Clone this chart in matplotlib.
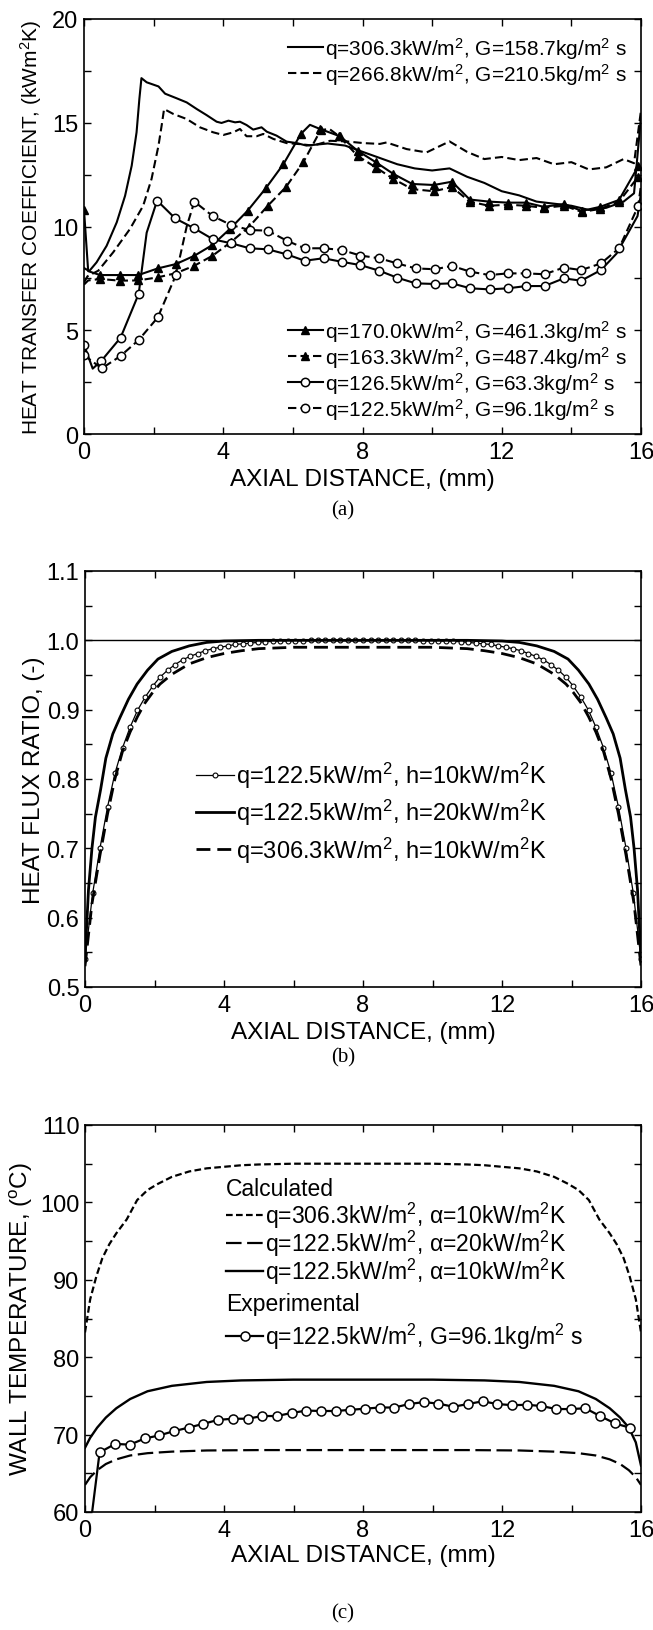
import numpy as np
import matplotlib
matplotlib.use('Agg')
import matplotlib.pyplot as plt
from matplotlib.ticker import MultipleLocator, FormatStrFormatter

plt.rcParams['font.family'] = ['Liberation Sans', 'DejaVu Sans']
plt.rcParams['mathtext.fontset'] = 'custom'
plt.rcParams['mathtext.rm'] = 'Liberation Sans'
plt.rcParams['mathtext.it'] = 'Liberation Sans:italic'
plt.rcParams['mathtext.default'] = 'regular'

# ---------------- Panel (a): heat transfer coefficient ----------------
xa_q306 = [0, 0.15, 0.36, 0.65, 0.94, 1.18, 1.37, 1.51, 1.59, 1.65, 1.8, 2.14, 2.33, 2.66, 2.95, 3.24,
           3.52, 3.81, 3.95, 4.15, 4.34, 4.48, 4.67, 4.86, 5.1, 5.25, 5.53, 5.82, 6.11, 6.39, 7.0,
           7.5, 8.0, 8.5, 9.0, 9.5, 10.0, 10.5, 11.0, 11.5, 12.0, 12.5, 13.0, 13.5, 14.0, 14.5,
           15.0, 15.5, 15.8, 16.0]
ya_q306 = [8.0, 7.85, 8.27, 9.07, 10.2, 11.48, 12.93, 14.54, 16.14, 17.15, 16.95, 16.75, 16.4, 16.18,
           15.98, 15.66, 15.37, 15.05, 14.99, 15.1, 15.02, 15.05, 14.89, 14.67, 14.78, 14.57, 14.38,
           14.09, 14.02, 13.9, 14.0, 13.9, 13.6, 13.3, 13.0, 12.8, 12.7, 12.8, 12.4, 12.1, 11.7,
           11.5, 11.2, 11.1, 11.0, 10.8, 10.9, 11.2, 11.6, 15.3]

xa_q267 = [0, 0.1, 0.41, 0.84, 1.32, 1.7, 1.94, 2.14, 2.23, 2.3, 2.57, 2.95, 3.33, 3.71, 4.0, 4.29,
           4.48, 4.67, 4.96, 5.15, 5.44, 5.82, 6.2, 6.58, 7.07, 7.55, 8.02, 8.5, 8.69, 9.27, 9.84,
           10.5, 11.0, 11.5, 12.0, 12.5, 13.0, 13.5, 14.0, 14.5, 15.0, 15.5, 15.8, 16.0]
ya_q267 = [7.3, 7.6, 7.87, 8.76, 9.88, 11.0, 12.29, 13.9, 14.86, 15.66, 15.42, 15.18, 14.78, 14.54,
           14.41, 14.54, 14.7, 14.35, 14.35, 14.46, 14.22, 14.02, 13.97, 13.9, 14.13, 14.1, 14.02,
           13.98, 14.05, 13.73, 13.57, 14.1, 13.6, 13.25, 13.35, 13.2, 13.3, 13.0, 13.1, 12.75,
           12.85, 13.25, 13.05, 15.6]

xa_q170 = [0, 0.12, 0.46, 1.03, 1.56, 2.12, 2.64, 3.17, 3.69, 4.19, 4.70, 5.22, 5.73, 6.23, 6.49,
           6.78, 7.35, 7.86, 8.39, 8.89, 9.43, 10.05, 10.57, 11.08, 11.63, 12.17, 12.70, 13.20,
           13.80, 14.30, 14.83, 15.37, 15.92]
ya_q170 = [10.8, 7.85, 7.66, 7.66, 7.66, 7.98, 8.19, 8.59, 9.11, 9.88, 10.76, 11.84, 13.01, 14.46,
           14.9, 14.7, 14.35, 13.65, 13.09, 12.53, 12.05, 12.0, 12.16, 11.3, 11.2, 11.15, 11.15,
           10.95, 11.08, 10.75, 10.95, 11.28, 12.9]
mk_q170 = [0] + list(range(2, 14)) + list(range(15, 33))

xa_q163 = [0, 0.12, 0.46, 1.03, 1.56, 2.12, 2.64, 3.17, 3.69, 4.22, 4.75, 5.28, 5.80, 6.30, 6.80,
           7.05, 7.33, 7.86, 8.39, 8.89, 9.43, 10.05, 10.57, 11.08, 11.63, 12.17, 12.70, 13.20,
           13.80, 14.30, 14.83, 15.37, 15.92]
ya_q163 = [7.2, 7.4, 7.47, 7.39, 7.4, 7.55, 7.75, 8.11, 8.59, 9.25, 10.0, 11.0, 11.9, 13.1, 14.65,
           14.7, 14.35, 13.4, 12.84, 12.29, 11.8, 11.7, 11.9, 11.2, 11.0, 11.05, 11.0, 10.9, 11.0,
           10.7, 10.85, 11.2, 12.4]
mk_q163 = list(range(2, 15)) + list(range(16, 33))

xa_q126 = [0, 0.25, 0.5, 1.05, 1.57, 1.8, 2.1, 2.62, 3.17, 3.71, 4.23, 4.76, 5.28, 5.82, 6.34, 6.88,
           7.40, 7.94, 8.48, 9.00, 9.53, 10.08, 10.57, 11.10, 11.65, 12.17, 12.70, 13.23, 13.78,
           14.28, 14.85, 15.3, 15.9, 16.0]
ya_q126 = [4.3, 3.15, 3.53, 4.64, 6.75, 9.7, 11.25, 10.39, 9.91, 9.38, 9.19, 8.95, 8.9, 8.66, 8.35,
           8.47, 8.3, 8.14, 7.87, 7.53, 7.26, 7.23, 7.26, 7.02, 6.97, 7.02, 7.13, 7.13, 7.5, 7.39,
           7.9, 8.7, 10.5, 11.6]
mk_q126 = [0, 2, 3, 4] + list(range(6, 31))

xa_q122 = [0, 0.51, 1.05, 1.57, 2.12, 2.64, 2.95, 3.17, 3.70, 4.23, 4.76, 5.28, 5.82, 6.34, 6.88,
           7.40, 7.94, 8.48, 9.00, 9.53, 10.08, 10.57, 11.10, 11.65, 12.17, 12.70, 13.23, 13.78,
           14.28, 14.85, 15.37, 15.92, 16.0]
ya_q122 = [3.8, 3.16, 3.76, 4.53, 5.62, 7.66, 10.0, 11.2, 10.5, 10.07, 9.83, 9.8, 9.32, 8.95, 8.95,
           8.87, 8.6, 8.47, 8.22, 7.98, 7.94, 8.1, 7.82, 7.66, 7.74, 7.74, 7.7, 8.02, 7.9, 8.22,
           8.95, 10.99, 12.0]
mk_q122 = [0, 1, 2, 3, 4, 5] + list(range(7, 32))

labels_a = ['q=306.3kW/m$^2$, G=158.7kg/m$^2$ s',
            'q=266.8kW/m$^2$, G=210.5kg/m$^2$ s',
            'q=170.0kW/m$^2$, G=461.3kg/m$^2$ s',
            'q=163.3kW/m$^2$, G=487.4kg/m$^2$ s',
            'q=126.5kW/m$^2$, G=63.3kg/m$^2$ s',
            'q=122.5kW/m$^2$, G=96.1kg/m$^2$ s']

# ---------------- Panel (b): heat flux ratio ----------------
xb_h10 = [0.00, 0.22, 0.43, 0.65, 0.86, 1.08, 1.30, 1.51, 1.73, 1.95, 2.16, 2.38, 2.59, 2.81, 3.03,
          3.24, 3.46, 3.68, 3.89, 4.11, 4.32, 4.54, 4.76, 4.97, 5.19, 5.41, 5.62, 5.84, 6.05, 6.27,
          6.49, 6.70, 6.92, 7.14, 7.35, 7.57, 7.78, 8.00, 8.22, 8.43, 8.65, 8.86, 9.08, 9.30, 9.51,
          9.73, 9.95, 10.16, 10.38, 10.59, 10.81, 11.03, 11.24, 11.46, 11.68, 11.89, 12.11, 12.32,
          12.54, 12.76, 12.97, 13.19, 13.41, 13.62, 13.84, 14.05, 14.27, 14.49, 14.70, 14.92,
          15.14, 15.35, 15.57, 15.78, 16.00]
yb_h10 = [0.540, 0.635, 0.700, 0.760, 0.808, 0.845, 0.875, 0.899, 0.918, 0.934, 0.947, 0.957, 0.965,
          0.972, 0.977, 0.981, 0.985, 0.988, 0.990, 0.992, 0.994, 0.995, 0.996, 0.997, 0.998,
          0.9985, 0.999, 0.9993, 0.9995, 0.9997, 0.9998, 0.9999, 1.000, 1.000, 1.000, 1.000,
          1.000, 1.000, 1.000, 1.000, 1.000, 1.000, 1.000, 0.9999, 0.9998, 0.9997, 0.9995,
          0.9993, 0.999, 0.9985, 0.998, 0.997, 0.996, 0.995, 0.994, 0.992, 0.990, 0.988, 0.985,
          0.981, 0.977, 0.972, 0.965, 0.957, 0.947, 0.934, 0.918, 0.899, 0.875, 0.845, 0.808,
          0.760, 0.700, 0.635, 0.540]

xb_h20 = [0, 0.1, 0.2, 0.3, 0.45, 0.6, 0.8, 1.0, 1.25, 1.5, 1.8, 2.1, 2.5, 3.0, 3.5, 4.0, 5.0, 8.0,
          11.0, 12.0, 12.5, 13.0, 13.5, 13.9, 14.2, 14.5, 14.75, 15.0, 15.2, 15.4, 15.55, 15.7,
          15.8, 15.9, 16.0]
yb_h20 = [0.54, 0.64, 0.70, 0.745, 0.785, 0.83, 0.865, 0.888, 0.915, 0.937, 0.957, 0.973, 0.984,
          0.992, 0.997, 0.999, 1.0, 1.0, 1.0, 0.999, 0.997, 0.992, 0.984, 0.973, 0.957, 0.937,
          0.915, 0.888, 0.865, 0.83, 0.785, 0.745, 0.70, 0.64, 0.54]

xb_q306 = [0, 0.2, 0.43, 0.65, 0.86, 1.08, 1.3, 1.51, 1.73, 1.95, 2.16, 2.5, 3.0, 3.5, 4.0, 4.5,
           5.0, 6.0, 8.0, 10.0, 11.0, 11.5, 12.0, 12.5, 13.0, 13.5, 13.84, 14.05, 14.27, 14.49,
           14.7, 14.92, 15.14, 15.35, 15.57, 15.8, 16.0]
yb_q306 = [0.53, 0.62, 0.69, 0.75, 0.80, 0.84, 0.868, 0.89, 0.91, 0.925, 0.937, 0.951, 0.966,
           0.975, 0.981, 0.985, 0.988, 0.99, 0.99, 0.99, 0.988, 0.985, 0.981, 0.975, 0.966,
           0.951, 0.937, 0.925, 0.91, 0.89, 0.868, 0.84, 0.80, 0.75, 0.69, 0.62, 0.53]

xb_ref = [0, 16]
yb_ref = [1.0, 1.0]

labels_b = ['q=122.5kW/m$^2$, h=10kW/m$^2$K',
            'q=122.5kW/m$^2$, h=20kW/m$^2$K',
            'q=306.3kW/m$^2$, h=10kW/m$^2$K']

# ---------------- Panel (c): wall temperature ----------------
xc_q306 = [0, 0.15, 0.33, 0.5, 0.7, 0.9, 1.2, 1.5, 1.8, 2.1, 2.5, 3.0, 3.5, 4.0, 4.5, 5.0, 6.0,
           8.0, 10.0, 11.0, 11.5, 12.0, 12.5, 13.0, 13.5, 13.9, 14.2, 14.5, 14.8, 15.1, 15.3,
           15.5, 15.67, 15.85, 16.0]
yc_q306 = [83.2, 87.5, 90.5, 92.8, 94.6, 96.0, 97.8, 100.3, 101.6, 102.4, 103.3, 104.0, 104.4,
           104.6, 104.8, 104.9, 105.0, 105.0, 105.0, 104.9, 104.8, 104.6, 104.4, 104.0, 103.3,
           102.4, 101.6, 100.3, 97.8, 96.0, 94.6, 92.8, 90.5, 87.5, 83.2]

xc_a20 = [0, 0.15, 0.35, 0.6, 0.9, 1.3, 1.8, 2.5, 3.5, 5.0, 8.0, 11.0, 12.5, 13.5, 14.2, 14.7,
          15.1, 15.4, 15.65, 15.85, 16.0]
yc_a20 = [63.5, 64.5, 65.4, 66.2, 66.8, 67.3, 67.6, 67.8, 67.95, 68.0, 68.0, 68.0, 67.95, 67.8,
          67.6, 67.3, 66.8, 66.2, 65.4, 64.5, 63.5]

xc_a10 = [0, 0.15, 0.35, 0.6, 0.9, 1.3, 1.8, 2.5, 3.5, 4.5, 6.0, 8.0, 10.0, 11.5, 12.5, 13.5,
          14.2, 14.7, 15.1, 15.4, 15.65, 15.85, 16.0]
yc_a10 = [68.3, 69.6, 70.9, 72.2, 73.4, 74.6, 75.6, 76.3, 76.8, 77.0, 77.1, 77.1, 77.1, 77.0,
          76.8, 76.3, 75.6, 74.6, 73.4, 72.2, 70.9, 69.0, 66.0]

xc_exp = [0.15, 0.42, 0.87, 1.29, 1.72, 2.14, 2.56, 2.98, 3.41, 3.83, 4.25, 4.68, 5.10, 5.52,
          5.95, 6.37, 6.79, 7.21, 7.64, 8.06, 8.48, 8.90, 9.33, 9.75, 10.17, 10.60, 11.02, 11.44,
          11.87, 12.29, 12.71, 13.13, 13.56, 13.98, 14.40, 14.82, 15.25, 15.67]
yc_exp = [58.0, 67.7, 68.8, 68.7, 69.5, 69.9, 70.45, 70.9, 71.4, 71.9, 72.05, 72.05, 72.4, 72.4,
          72.8, 73.1, 73.05, 73.05, 73.2, 73.35, 73.5, 73.5, 73.95, 74.2, 74.0, 73.6, 73.95, 74.3,
          73.95, 73.8, 73.85, 73.7, 73.3, 73.3, 73.4, 72.4, 71.45, 70.9]

labels_c = ['q=306.3kW/m$^2$, α=10kW/m$^2$K',
            'q=122.5kW/m$^2$, α=20kW/m$^2$K',
            'q=122.5kW/m$^2$, α=10kW/m$^2$K',
            'q=122.5kW/m$^2$, G=96.1kg/m$^2$ s']

# ---------------- Figure ----------------
FT = 17      # tick labels
FL = 17.5    # axis labels
W, H = 653, 1631
fig = plt.figure(figsize=(W / 100, H / 100), dpi=100)


def box(l, t, r, b):
    return [l / W, 1 - b / H, (r - l) / W, (b - t) / H]


ax_a = fig.add_axes(box(84, 20, 641, 435))
ax_b = fig.add_axes(box(85, 572, 641, 988))
ax_c = fig.add_axes(box(85, 1126, 641, 1513))


def style(ax, ylim, ymaj, ymin, fmt=None):
    ax.set_xlim(0, 16)
    ax.set_ylim(*ylim)
    ax.xaxis.set_major_locator(MultipleLocator(4))
    ax.xaxis.set_minor_locator(MultipleLocator(2))
    ax.yaxis.set_major_locator(MultipleLocator(ymaj))
    ax.yaxis.set_minor_locator(MultipleLocator(ymin))
    if fmt:
        ax.yaxis.set_major_formatter(FormatStrFormatter(fmt))
    ax.tick_params(which='both', direction='in', top=True, right=True, length=5, width=1,
                   labelsize=FT, pad=4)
    ax.tick_params(axis='x', pad=5)
    for s in ax.spines.values():
        s.set_linewidth(1.2)
    ax.set_xlabel('AXIAL DISTANCE, (mm)', fontsize=FL, labelpad=1)


k = dict(color='black')
# Panel a
l1, = ax_a.plot(xa_q306, ya_q306, '-', lw=1.5, label=labels_a[0], **k)
l2, = ax_a.plot(xa_q267, ya_q267, '--', lw=1.5, dashes=(4, 2), label=labels_a[1], **k)
l3, = ax_a.plot(xa_q170, ya_q170, '-', lw=1.5, marker='^', ms=6, markevery=mk_q170,
                mfc='black', label=labels_a[2], **k)
l4, = ax_a.plot(xa_q163, ya_q163, '--', lw=1.5, dashes=(4, 2), marker='^', ms=6,
                markevery=mk_q163, mfc='black', label=labels_a[3], **k)
l5, = ax_a.plot(xa_q126, ya_q126, '-', lw=1.5, marker='o', ms=6, markevery=mk_q126,
                mfc='white', mew=1.1, label=labels_a[4], **k)
l6, = ax_a.plot(xa_q122, ya_q122, '--', lw=1.5, dashes=(4, 2), marker='o', ms=6,
                markevery=mk_q122, mfc='white', mew=1.1, label=labels_a[5], **k)
style(ax_a, (0, 20), 5, 2.5)
ax_a.set_ylabel('HEAT TRANSFER COEFFICIENT, (kWm$^2$K)', fontsize=15)
LA = dict(frameon=False, fontsize=15, handlelength=1.7, handletextpad=0.1, numpoints=1,
          labelspacing=0.0, borderaxespad=0, borderpad=0)
leg_a1 = ax_a.legend(handles=[l1, l2], loc='upper right', bbox_to_anchor=(0.975, 0.962), **LA)
ax_a.add_artist(leg_a1)
ax_a.legend(handles=[l3, l4, l5, l6], loc='lower right', bbox_to_anchor=(0.975, 0.03), **LA)

# Panel b
ax_b.plot(xb_ref, yb_ref, '-', lw=1.0, **k)
m1, = ax_b.plot(xb_h10, yb_h10, '-', lw=0.9, marker='o', ms=3.5, mfc='white', mew=0.8,
                label=labels_b[0], **k)
m2, = ax_b.plot(xb_h20, yb_h20, '-', lw=2.0, label=labels_b[1], **k)
m3, = ax_b.plot(xb_q306, yb_q306, '--', lw=2.0, dashes=(5, 2.5), label=labels_b[2], **k)
style(ax_b, (0.5, 1.1), 0.1, 0.05, '%.1f')
ax_b.set_ylabel('HEAT FLUX RATIO, (-)', fontsize=FL)
ax_b.legend(handles=[m1, m2, m3], loc='center', bbox_to_anchor=(0.515, 0.42), frameon=False,
            fontsize=17, handlelength=1.6, handletextpad=0.1, numpoints=1, labelspacing=0.3,
            borderaxespad=0, borderpad=0)

# Panel c
n1, = ax_c.plot(xc_q306, yc_q306, '--', lw=1.6, dashes=(3, 1.5), label=labels_c[0], **k)
n2, = ax_c.plot(xc_a20, yc_a20, '--', lw=1.6, dashes=(7, 2.5), label=labels_c[1], **k)
n3, = ax_c.plot(xc_a10, yc_a10, '-', lw=1.7, label=labels_c[2], **k)
n4, = ax_c.plot(xc_exp, yc_exp, '-', lw=1.6, marker='o', ms=6.5, mfc='white', mew=1.1,
                markevery=list(range(1, len(xc_exp))), label=labels_c[3], **k)
style(ax_c, (60, 110), 10, 5)
ax_c.set_ylabel('WALL TEMPERATURE, ($^{\\mathrm{o}}$C)', fontsize=FL)
LC = dict(alignment='left', loc='upper left', frameon=False, fontsize=16.5, title_fontsize=16.5,
          handlelength=1.6, handletextpad=0.1, numpoints=1, labelspacing=-0.1,
          borderaxespad=0, borderpad=0)
leg_c1 = ax_c.legend(handles=[n1, n2, n3], title='Calculated', bbox_to_anchor=(0.254, 0.865),
                     **LC)
leg_c1._legend_box.sep = 0
ax_c.add_artist(leg_c1)
leg_c2 = ax_c.legend(handles=[n4], title='Experimental', bbox_to_anchor=(0.254, 0.568), **LC)
leg_c2._legend_box.sep = 4

ax_a.yaxis.set_label_coords(-0.072, 0.5)
ax_b.yaxis.set_label_coords(-0.072, 0.5)
ax_c.yaxis.set_label_coords(-0.09, 0.5)
for ax in (ax_a, ax_b, ax_c):
    ax.xaxis.set_label_coords(0.5, -0.082)

# captions
for lab, ypix in [('(a)', 511), ('(b)', 1058), ('(c)', 1614)]:
    fig.text(343 / W, 1 - ypix / H, lab, ha='center', va='center', fontsize=15,
             family='Liberation Serif')

fig.savefig('out.png', dpi=100)
